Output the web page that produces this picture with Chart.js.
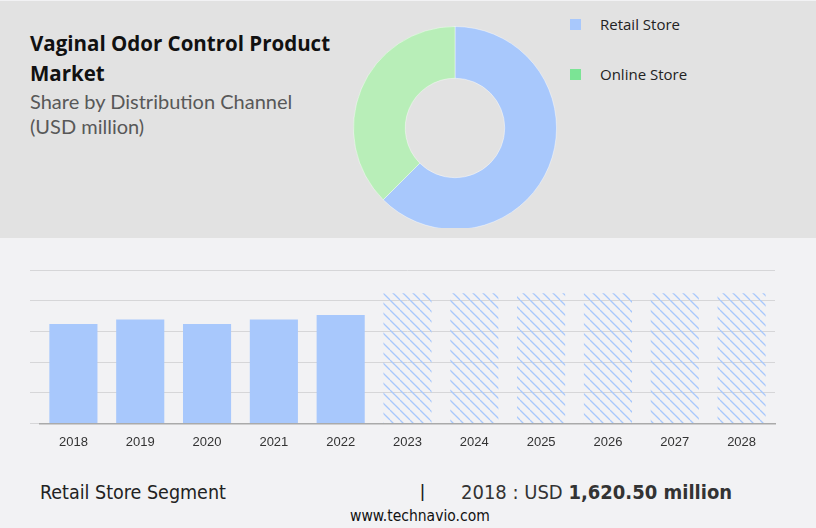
<!DOCTYPE html>
<html>
<head>
<meta charset="utf-8">
<script src="https://cdn.jsdelivr.net/npm/chart.js@4"></script>
<style>
  body { margin: 0; width: 816px; height: 528px; background: #f2f2f4; position: relative; overflow: hidden; font-family: "Open Sans", sans-serif; }
  #top { position: absolute; left: 0; top: 1px; width: 816px; height: 237px; background: #e2e2e2; }
  #title { position: absolute; left: 30px; top: 28px; font-size: 20.5px; font-weight: bold; line-height: 30px; color: #111; }
  #sub { position: absolute; left: 30px; top: 89px; font-family: Lato, sans-serif; font-size: 20px; line-height: 25px; color: #585858; }
  #donutBox { position: absolute; left: 353px; top: 26px; width: 204px; height: 202px; overflow: hidden; }
  #legend { position: absolute; left: 570px; top: 13px; font-size: 15px; color: #222; }
  .item { position: relative; height: 50px; line-height: 22px; padding-left: 30px; }
  .sw { position: absolute; left: 0; top: 6px; width: 11px; height: 11px; }
  #barBox { position: absolute; left: 0; top: 250px; width: 816px; height: 203px; }
  #foot { position: absolute; left: 40px; top: 481px; font-family: "Liberation Sans Narrow", "DejaVu Sans Condensed", sans-serif; font-size: 19.5px; color: #222; }
  #sep { position: absolute; left: 420px; top: 480px; font-size: 19px; color: #222; font-family: "Liberation Sans Narrow", sans-serif; }
  #val { position: absolute; left: 461px; top: 480px; font-family: "Liberation Sans Narrow", "DejaVu Sans Condensed", sans-serif; font-size: 20px; color: #333; }
  #val b { color: #333; }
  #site { position: absolute; left: 350px; top: 507px; font-family: "Liberation Sans Narrow", "DejaVu Sans Condensed", sans-serif; font-size: 15.5px; color: #111; }
</style>
</head>
<body>
<div id="top"></div>
<div id="title">Vaginal Odor Control Product<br>Market</div>
<div id="sub">Share by Distribution Channel<br>(USD million)</div>
<div id="donutBox"><canvas id="donut" width="204" height="204"></canvas></div>
<div id="legend">
  <div class="item"><span class="sw" style="background:#a8c8fc"></span>Retail Store</div>
  <div class="item"><span class="sw" style="background:#7be495"></span>Online Store</div>
</div>
<div id="barBox"><canvas id="bars"></canvas></div>
<div id="foot">Retail Store Segment</div>
<div id="sep">|</div>
<div id="val">2018 : USD <b>1,620.50 million</b></div>
<div id="site">www.technavio.com</div>
<script>
// donut: share by channel (%)
const channels = ["Retail Store", "Online Store"];
const shares = [62.5, 37.5];
const sliceColors = ["#a8c8fc", "#b8eeb8"];

// bars: retail store segment by year
const years = ["2018", "2019", "2020", "2021", "2022", "2023", "2024", "2025", "2026", "2027", "2028"];
const retail = [1620.5, 1692, 1620, 1692, 1767, 2120, 2120, 2120, 2120, 2120, 2120];
const firstForecast = 5;

new Chart(document.getElementById("donut"), {
    type: "doughnut",
    data: {
        labels: channels,
        datasets: [{ data: shares, backgroundColor: sliceColors, borderColor: "rgba(255,255,255,0.4)", borderWidth: 1 }],
    },
    options: {
        responsive: false,
        animation: false,
        cutout: "49%",
        plugins: { legend: { display: false }, tooltip: { enabled: false } },
    },
});

//hatch pattern for the forecast years
function hatch(color) {
    const c = document.createElement("canvas");
    c.width = 10;
    c.height = 10;
    const g = c.getContext("2d");
    g.strokeStyle = color;
    g.lineWidth = 1.3;
    for (let k = -10; k <= 10; k += 10) {
        g.beginPath();
        g.moveTo(k, 0);
        g.lineTo(k + 10, 10);
        g.stroke();
    }
    return g.createPattern(c, "repeat");
}
const pattern = hatch("#a8c8fc");
const barColors = years.map((_, i) => (i < firstForecast ? "#a8c8fc" : pattern));

new Chart(document.getElementById("bars"), {
    type: "bar",
    data: {
        labels: years,
        datasets: [{ data: retail, backgroundColor: barColors, barPercentage: 0.72, categoryPercentage: 1 }],
    },
    options: {
        responsive: true,
        maintainAspectRatio: false,
        animation: false,
        layout: { padding: { left: 30, right: 41, top: 20, bottom: 0 } },
        plugins: { legend: { display: false }, tooltip: { enabled: false } },
        scales: {
            x: {
                grid: { display: false },
                border: { color: "#aaaaaa", width: 1.5 },
                ticks: { color: "#333", font: { family: "Liberation Sans", size: 13 }, padding: 3 },
            },
            y: {
                min: 0,
                max: 2500,
                border: { display: false },
                grid: { color: "#d6d6d8", tickLength: 10 },
                ticks: { display: false, stepSize: 500 },
            },
        },
    },
});
</script>
</body>
</html>
